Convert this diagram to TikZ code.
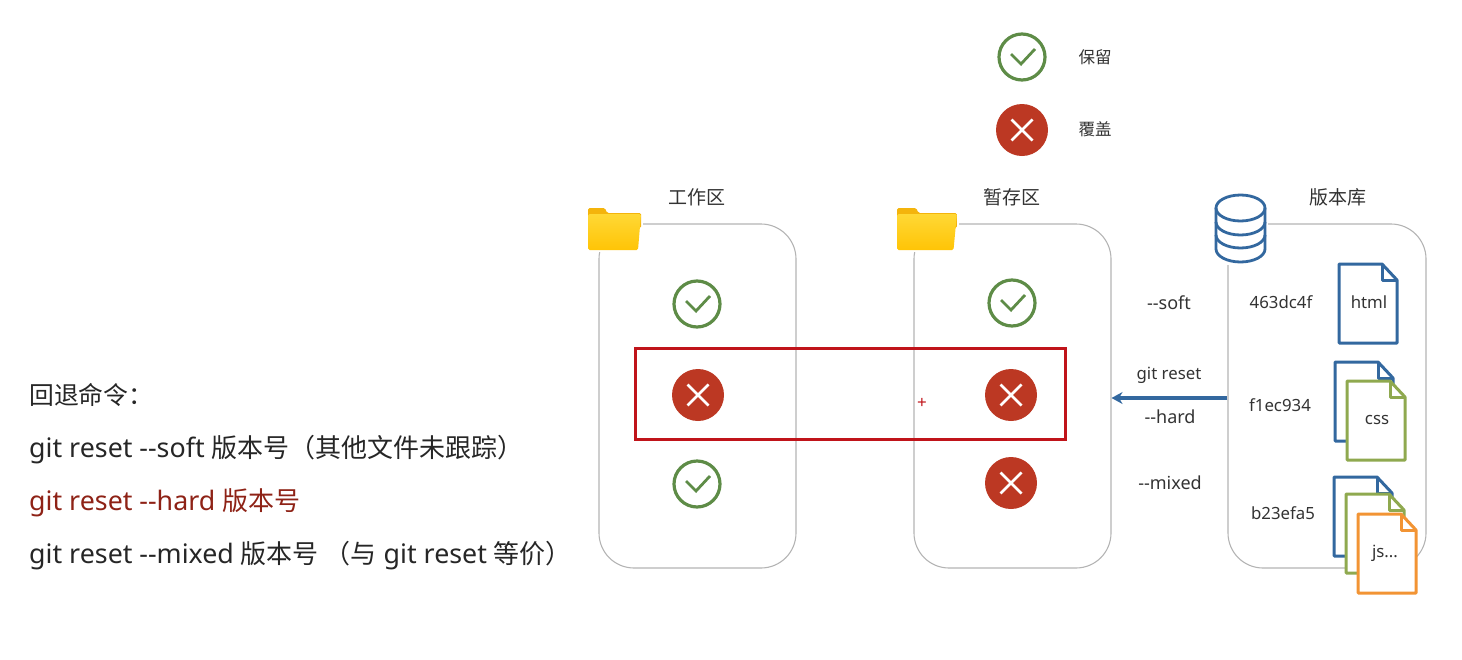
\documentclass[tikz,border=0pt]{standalone}
\usepackage{fontspec}
\setmainfont{Noto Sans}
\newfontfamily\cjk{Noto Sans CJK SC}
\newfontfamily\cjkbig[Scale=0.97]{Noto Sans CJK SC}
\usetikzlibrary{positioning,calc,arrows.meta}

\definecolor{okgreen}{HTML}{5E8C47}
\definecolor{nored}{HTML}{BC3823}
\definecolor{rowred}{HTML}{C0141A}
\definecolor{cmdred}{HTML}{8E2216}
\definecolor{boxgray}{HTML}{B4B4B4}
\definecolor{fileblue}{HTML}{33689F}
\definecolor{filegreen}{HTML}{8FA94F}
\definecolor{fileorange}{HTML}{F29434}
\definecolor{labelgray}{HTML}{333333}
\definecolor{folderback}{HTML}{F4B40C}
\definecolor{folderlight}{HTML}{FFD835}
\definecolor{folderdark}{HTML}{FFC406}

\tikzset{
    areabox/.style={draw=boxgray, line width=1.1pt, rounded corners=35pt, minimum width=197pt, minimum height=344pt, inner sep=0pt},
    okmark/.style={circle, draw=okgreen, line width=3.2pt, minimum size=46pt, inner sep=0pt,
        path picture={\draw[okgreen, line width=2.8pt, shift={(path picture bounding box.center)}] (-11,-3) -- (-1,7) -- (13,-8);}},
    nomark/.style={circle, fill=nored, minimum size=52pt, inner sep=0pt,
        path picture={\draw[white, line width=2.8pt, shift={(path picture bounding box.center)}] (-10.5,-10.5) -- (10.5,10.5) (-10.5,10.5) -- (10.5,-10.5);}},
    cmdline/.style={anchor=base west, inner sep=0pt, font=\fontsize{26.8}{28}\selectfont, text=black!85},
    titlelabel/.style={inner sep=0pt, font=\fontsize{19}{20}\cjk, text=labelgray},
    keylabel/.style={inner sep=0pt, font=\fontsize{16.5}{18}\cjk, text=labelgray},
    smalllabel/.style={inner sep=0pt, font=\fontsize{16.8}{18}\selectfont, text=labelgray},
    optlabel/.style={smalllabel, font=\fontsize{18}{18}\selectfont},
    filedoc/.pic={
        \draw[pic actions, fill=white, line width=3pt, line join=round] (0,0) -- (43,0) -- (58,16) -- (58,79) -- (0,79) -- cycle;
        \draw[pic actions, line width=3pt, line join=round] (43,0) -- (43,16) -- (58,16);
    },
    folderimg/.pic={
        \fill[fill=white] (-2,-2) rectangle (55,44);
        \fill[fill=folderback, rounded corners=1.5pt] (0,0) -- (17,0) -- (19,5) -- (53,5) -- (53,20) -- (0,20) -- cycle;
        \shade[top color=folderlight, bottom color=folderdark, rounded corners=1.5pt] (0,6) -- (53,6) -- (50,42) -- (0,42) -- cycle;
    }
}

\begin{document}
\begin{tikzpicture}[x=1pt, y=-1pt]
    \useasboundingbox (0,0) rectangle (1462,659);

    % legend
    \node[okmark] (okkey) at (1022,57) {};
    \node[nomark] (nokey) at (1022,130) {};
    \node[keylabel] (okkeytext) at (1095,57) {保留};
    \node[keylabel] (nokeytext) at (1095,129) {覆盖};

    % three areas
    \node[areabox] (work) at (697.5,396) {};
    \node[areabox] (stage) at (1012.5,396) {};
    \node[areabox, minimum width=198pt] (repo) at (1327,396) {};
    \node[titlelabel] (worktext) at (697,197) {工作区};
    \node[titlelabel] (stagetext) at (1012,197) {暂存区};
    \node[titlelabel] (repotext) at (1338,197) {版本库};

    % icons over the box corners
    \pic at (588,208) {folderimg};
    \pic[xscale=1.13] at (897,208) {folderimg};
    \node[fill=white, inner sep=0pt, minimum width=56pt, minimum height=72pt] (dbmask) at (1240,229) {};
    \draw[fileblue, line width=2.8pt, fill=white] (1216,208) -- (1216,249) arc[start angle=180, end angle=360, x radius=24.5, y radius=-13] -- (1265,208);
    \draw[fileblue, line width=2.8pt] (1240.5,208) ellipse[x radius=24.5, y radius=13];
    \draw[fileblue, line width=2.8pt] (1216,222) arc[start angle=180, end angle=360, x radius=24.5, y radius=-13];
    \draw[fileblue, line width=2.8pt] (1216,235) arc[start angle=180, end angle=360, x radius=24.5, y radius=-13];

    % marks in the areas
    \node[okmark] (workok) at (697,304) {};
    \node[nomark] (workno) at (698,395) {};
    \node[okmark] (workokb) at (697,484) {};
    \node[okmark] (stageok) at (1012,303) {};
    \node[nomark] (stageno) at (1011,395) {};
    \node[nomark] (stagenob) at (1011,483) {};

    % highlighted row
    \node[draw=rowred, line width=3pt, minimum width=430pt, minimum height=91pt, inner sep=0pt] (hardrow) at (850.5,393.5) {};
    \node[inner sep=0pt, text=rowred, font=\fontsize{17}{17}\bfseries\selectfont] (cursor) at (922,403) {+};

    % reset arrow
    \coordinate (resetpt) at (repo.west |- 0,398);
    \draw[-{Stealth[length=11pt,width=12pt]}, fileblue, line width=3.2pt] (resetpt) -- (resetpt -| stage.east);
    \node[optlabel] (softtext) at (1169,303) {-{}-soft};
    \node[smalllabel] (resettext) at (1169,375) {git reset};
    \node[optlabel] (hardtext) at (1170,417) {-{}-hard};
    \node[optlabel] (mixedtext) at (1170,483) {-{}-mixed};

    % versions
    \node[smalllabel] (hasha) at (1281,302) {463dc4f};
    \node[smalllabel] (hashb) at (1280,405) {f1ec934};
    \node[smalllabel] (hashc) at (1283,513) {b23efa5};
    \pic[draw=fileblue] at (1339,264) {filedoc};
    \pic[draw=fileblue] at (1335,362) {filedoc};
    \pic[draw=filegreen] at (1347,381) {filedoc};
    \pic[draw=fileblue] at (1334,477) {filedoc};
    \pic[draw=filegreen] at (1346,494) {filedoc};
    \pic[draw=fileorange] at (1358,514) {filedoc};
    \node[smalllabel] (htmltext) at (1369,302) {html};
    \node[smalllabel] (csstext) at (1377,420) {css};
    \node[smalllabel] (jstext) at (1385,553) {js...};

    % commands
    \node[cmdline] (cmdtitle) at (29,404) {{\fontsize{24.8}{26}\cjk 回退命令：}};
    \node[cmdline] (cmdsoft) at (29,457) {git reset -{}-soft {\cjkbig 版本号（其他文件未跟踪）}};
    \node[cmdline, text=cmdred] (cmdhard) at (29,510) {git reset -{}-hard {\cjkbig 版本号}};
    \node[cmdline] (cmdmixed) at (29,563) {git reset -{}-mixed {\cjkbig 版本号 （与} git reset {\cjkbig 等价）}};
\end{tikzpicture}
\end{document}
